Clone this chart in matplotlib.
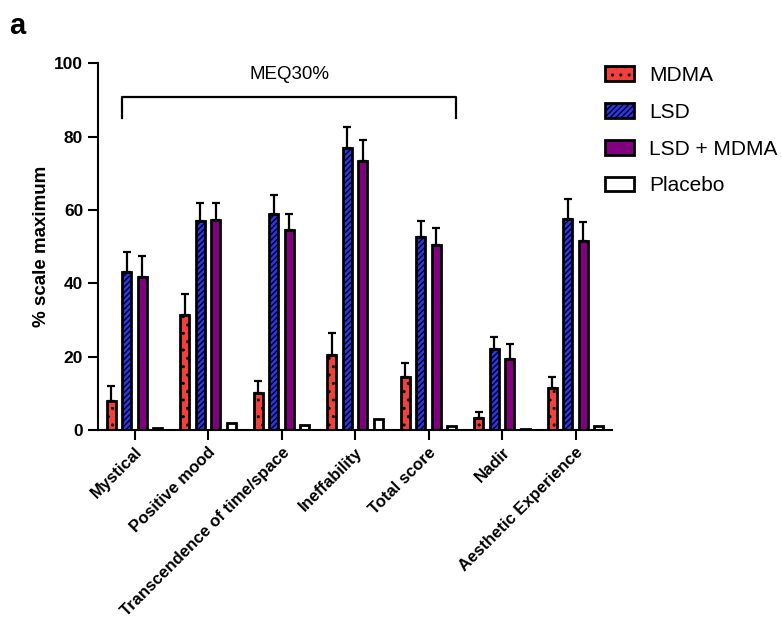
import numpy as np
import matplotlib.pyplot as plt
from matplotlib.patches import Patch

categories = ['Mystical', 'Positive mood', 'Transcendence of time/space',
              'Ineffability', 'Total score', 'Nadir', 'Aesthetic Experience']
groups = ['MDMA', 'LSD', 'LSD + MDMA', 'Placebo']

mdma = [8.0, 31.5, 10.0, 20.5, 14.5, 3.3, 11.5]
mdma_err = [4.0, 5.5, 3.5, 6.0, 3.8, 1.7, 3.0]
lsd = [43.0, 57.0, 59.0, 77.0, 52.5, 22.0, 57.5]
lsd_err = [5.5, 5.0, 5.0, 5.5, 4.5, 3.5, 5.5]
mix = [41.7, 57.3, 54.5, 73.3, 50.5, 19.5, 51.5]
mix_err = [5.8, 4.7, 4.5, 5.7, 4.7, 4.0, 5.3]
placebo = [0.5, 1.8, 1.5, 3.0, 1.2, 0.3, 1.2]
placebo_err = [0, 0, 0, 0, 0, 0, 0]

plt.rcParams['font.family'] = ['Liberation Sans', 'DejaVu Sans']
plt.rcParams['hatch.linewidth'] = 1.0

fig = plt.figure(figsize=(7.82, 6.26), dpi=100)
ax = fig.add_axes([0.125, 0.313, 0.658, 0.586])

x = np.arange(len(categories))
step = 0.211
width = 0.12
styles = [
    (mdma, mdma_err, '#f2403c', '..'),
    (lsd, lsd_err, '#2b35f0', '//////'),
    (mix, mix_err, '#800080', None),
    (placebo, placebo_err, 'white', None),
]
handles = []
for i, (vals, errs, col, hatch) in enumerate(styles):
    pos = x + (i - 1.5) * step
    ax.bar(pos, vals, width, color=col, edgecolor='black', linewidth=2.0,
           hatch=hatch, zorder=2)
    errs_arr = np.array(errs)
    mask = errs_arr > 0
    if mask.any():
        ax.errorbar(pos[mask], np.array(vals)[mask],
                    yerr=[np.zeros(mask.sum()), errs_arr[mask]],
                    fmt='none', ecolor='black', elinewidth=1.6, capsize=3,
                    capthick=1.6, zorder=3)
    handles.append(Patch(facecolor=col, edgecolor='black', linewidth=2.0,
                         hatch=hatch, label=groups[i]))

ax.set_xlim(-0.5, len(categories) - 0.5)
ax.set_ylim(0, 100)
ax.set_yticks([0, 20, 40, 60, 80, 100])
ax.set_xticks(x)
ax.set_xticklabels(categories, rotation=45, ha='right', rotation_mode='anchor',
                   fontsize=12, fontweight='bold')
for lab in ax.get_yticklabels():
    lab.set_fontsize(12.5)
    lab.set_fontweight('bold')
ax.tick_params(axis='both', direction='out', length=7, width=1.5)
ax.spines['top'].set_visible(False)
ax.spines['right'].set_visible(False)
ax.spines['left'].set_linewidth(1.5)
ax.spines['bottom'].set_linewidth(1.5)
ax.set_ylabel('% scale maximum', fontsize=13.5, fontweight='bold', labelpad=3)

# MEQ30 bracket
bx0, bx1, by, bdrop = -0.17, 4.38, 90.7, 85.0
ax.plot([bx0, bx0, bx1, bx1], [bdrop, by, by, bdrop], color='black',
        linewidth=1.6, clip_on=False)
ax.text((bx0 + bx1) / 2, 94.5, 'MEQ30%', ha='center', va='bottom', fontsize=13.5)

fig.legend(handles=handles, loc='upper left', bbox_to_anchor=(0.774, 0.895),
           frameon=False, fontsize=15, handlelength=1.4, handleheight=0.7,
           labelspacing=0.86, handletextpad=0.72, borderpad=0,
           borderaxespad=0)

fig.text(0.012, 0.945, 'a', fontsize=21, fontweight='bold')

fig.savefig('out.png', dpi=100)
